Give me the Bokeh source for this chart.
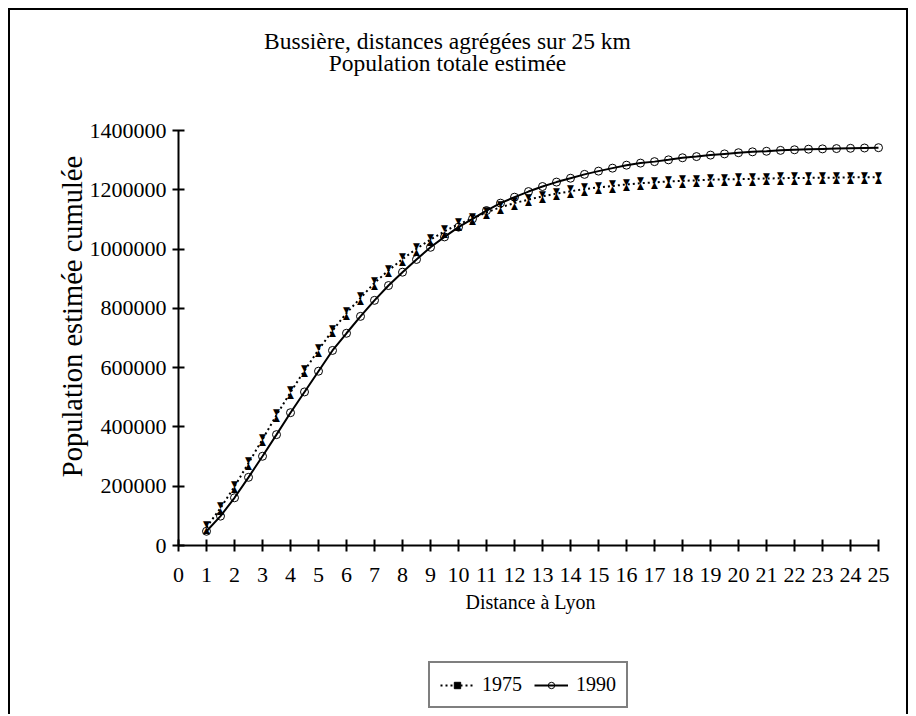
import math
from bokeh.plotting import figure
from bokeh.models import (Range1d, FixedTicker, NumeralTickFormatter, Label,
                          Legend, LegendItem, ColumnDataSource)
from bokeh.core.properties import value
from bokeh.embed import file_html
from bokeh.resources import INLINE

# ---------------- data ----------------
distance = [1, 1.5, 2, 2.5, 3, 3.5, 4, 4.5, 5, 5.5, 6, 6.5, 7, 7.5, 8, 8.5,
            9, 9.5, 10, 10.5, 11, 11.5, 12, 12.5, 13, 13.5, 14, 14.5, 15,
            15.5, 16, 16.5, 17, 17.5, 18, 18.5, 19, 19.5, 20, 20.5, 21, 21.5,
            22, 22.5, 23, 23.5, 24, 24.5, 25]

pop_1975 = [62000, 126000, 199000, 278000, 358000, 440000, 517000, 590000,
            660000, 725000, 784000, 835000, 886000, 928000, 966000, 1001000,
            1032000, 1060000, 1084000, 1103000, 1124000, 1141000, 1155000,
            1167000, 1178000, 1187000, 1195000, 1202000, 1208000, 1213000,
            1218000, 1222000, 1225000, 1228000, 1230000, 1232000, 1234000,
            1235000, 1236000, 1237000, 1238000, 1239000, 1240000, 1240000,
            1241000, 1241000, 1242000, 1242000, 1242000]

pop_1990 = [48000, 99000, 161000, 230000, 301000, 374000, 448000, 518000,
            588000, 658000, 716000, 773000, 827000, 877000, 922000, 965000,
            1006000, 1041000, 1074000, 1102000, 1130000, 1155000, 1175000,
            1194000, 1211000, 1226000, 1239000, 1252000, 1263000, 1273000,
            1283000, 1290000, 1295000, 1301000, 1308000, 1312000, 1317000,
            1321000, 1325000, 1328000, 1330000, 1333000, 1335000, 1337000,
            1338000, 1339000, 1340000, 1341000, 1342000]

x_ticks = list(range(0, 26))
y_ticks = [0, 200000, 400000, 600000, 800000, 1000000, 1200000, 1400000]
series_labels = ["1975", "1990"]
title_lines = ["Bussière, distances agrégées sur 25 km", "Population totale estimée"]
x_label = "Distance à Lyon"
y_label = "Population estimée cumulée"

FONT = "Liberation Serif"

# ---------------- layout geometry (page pixels) ----------------
W, H = 900, 706             # canvas size
CL, CT = 10, 10             # canvas top-left on the page (margin + border)
X0, PXX = 178, 28.0         # page x of distance 0, pixels per km
Y0, YTOP = 545, 130         # page y of 0 and of 1 400 000
YMAX = y_ticks[-1]
PXY = (Y0 - YTOP) / YMAX    # pixels per inhabitant


def dx(px):
    return (px - X0) / PXX


def dy(py):
    return (Y0 - py) / PXY


# the frame covers the whole canvas; axes sit at fixed data locations
p = figure(width=W, height=H, output_backend="svg", toolbar_location=None,
           x_range=Range1d(dx(CL), dx(CL + W)),
           y_range=Range1d(dy(CT + H), dy(CT)),
           min_border=0, min_border_left=0, min_border_right=0,
           min_border_top=0, min_border_bottom=0)
p.styles = {"margin-left": "8px", "margin-top": "8px",
            "border-left": "2px solid black", "border-top": "2px solid black",
            "border-right": "2px solid black"}
p.title.visible = False
p.outline_line_color = None
p.xgrid.visible = False
p.ygrid.visible = False
p.background_fill_color = "white"
p.border_fill_color = "white"

for ax in (p.xaxis[0], p.yaxis[0]):
    ax.fixed_location = 0
    ax.axis_line_width = 2
    ax.axis_line_color = "black"
    ax.major_tick_line_width = 2
    ax.major_tick_line_color = "black"
    ax.major_tick_in = 6
    ax.major_tick_out = 6
    ax.minor_tick_line_color = None
    ax.major_label_text_font = FONT
    ax.major_label_text_font_size = "22px"
    ax.major_label_text_color = "black"

xa = p.xaxis[0]
xa.ticker = FixedTicker(ticks=x_ticks)
xa.bounds = (0, 25)
xa.major_label_standoff = 16

ya = p.yaxis[0]
ya.ticker = FixedTicker(ticks=y_ticks)
ya.bounds = (0, YMAX)
ya.formatter = NumeralTickFormatter(format="0")
ya.major_label_standoff = 6

src75 = ColumnDataSource(dict(x=distance, y=pop_1975))
src90 = ColumnDataSource(dict(x=distance, y=pop_1990))

line75 = p.line("x", "y", source=src75, line_color="black", line_width=2,
                line_dash="2 3")
# hourglass markers made of two triangles
p.text("x", "y", source=src75, text=value("\u25BC"), text_align="center",
       text_baseline="middle", text_font=value("DejaVu Sans"),
       text_font_size="9px", y_offset=-2.8, text_color="black")
p.text("x", "y", source=src75, text=value("\u25B2"), text_align="center",
       text_baseline="middle", text_font=value("DejaVu Sans"),
       text_font_size="9px", y_offset=2.8, text_color="black")
leg75 = p.scatter("x", "y", source=src75, marker="square", size=6,
                  color="black", visible=False)

line90 = p.line("x", "y", source=src90, line_color="black", line_width=2)
circ90 = p.scatter("x", "y", source=src90, marker="circle", size=8,
                   fill_color=None, line_color="black", line_width=1)

legend = Legend(items=[LegendItem(label=series_labels[0], renderers=[line75, leg75]),
                       LegendItem(label=series_labels[1], renderers=[line90, circ90])],
                orientation="horizontal", location=(428 - CL, (CT + H) - 708))
legend.border_line_color = "black"
legend.border_line_width = 2
legend.background_fill_color = "white"
legend.background_fill_alpha = 1
legend.label_text_font = FONT
legend.label_text_font_size = "20px"
legend.label_text_color = "black"
legend.glyph_width = 34
legend.glyph_height = 16
legend.label_standoff = 8
legend.spacing = 12
legend.padding = 10
legend.margin = 0
legend.inactive_fill_alpha = 0
p.add_layout(legend, "center")


def add_label(text, px, py, size, angle=0.0):
    p.add_layout(Label(x=dx(px), y=dy(py), text=text, angle=angle,
                       text_align="center", text_baseline="middle",
                       text_font=FONT, text_font_size=size,
                       text_color="black"))


add_label(title_lines[0], 447, 40, "23.5px")
add_label(title_lines[1], 447, 62, "23.5px")
add_label(x_label, 530, 601, "20px")
add_label(y_label, 72, 316, "28.5px", angle=math.pi / 2)

open("out.html", "w").write(file_html(p, INLINE))
